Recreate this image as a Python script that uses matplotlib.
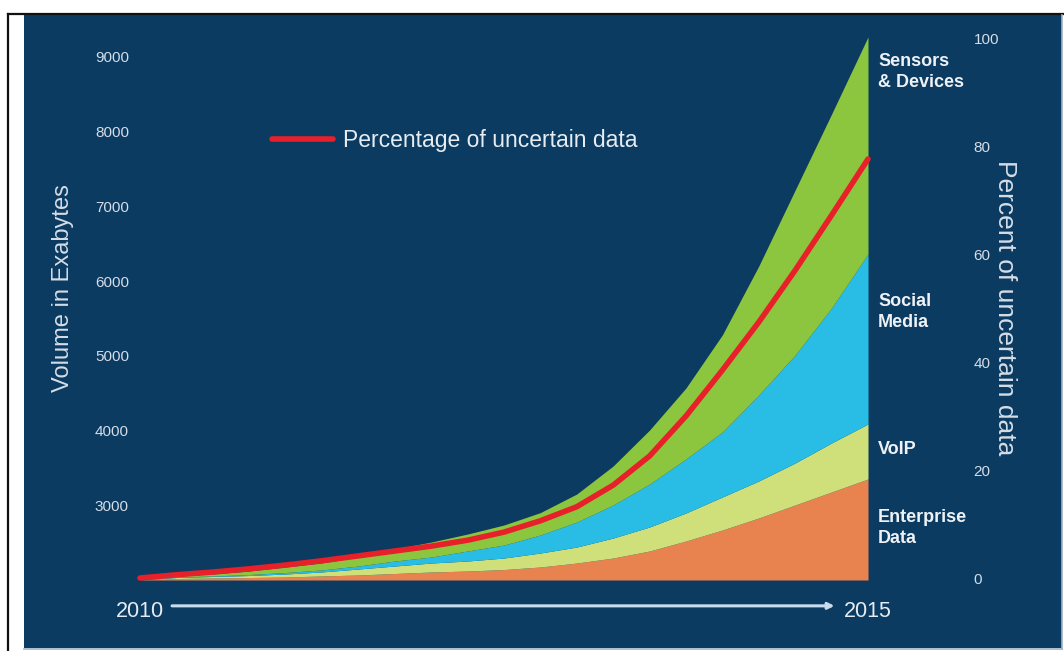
import numpy as np
import matplotlib.pyplot as plt
from matplotlib.lines import Line2D

# Data (volume in exabytes per layer, percent for the red line)
years = [2010, 2010.25, 2010.5, 2010.75, 2011, 2011.25, 2011.5, 2011.75, 2012, 2012.25, 2012.5,
         2012.75, 2013, 2013.25, 2013.5, 2013.75, 2014, 2014.25, 2014.5, 2014.75, 2015]
enterprise = [0, 20, 27, 33, 40, 54, 67, 87, 107, 120, 140,
              174, 227, 294, 388, 522, 669, 830, 1004, 1178, 1352]
voip = [0, 13, 20, 27, 40, 54, 80, 100, 120, 134, 154,
        187, 214, 268, 321, 375, 442, 495, 562, 656, 736]
social = [0, 7, 7, 13, 20, 27, 40, 67, 80, 134, 174,
          241, 335, 442, 575, 723, 870, 1151, 1445, 1806, 2275]
sensors = [0, 13, 27, 47, 74, 94, 120, 161, 201, 227, 268,
           300, 375, 522, 723, 950, 1300, 1726, 2208, 2596, 2904]
uncertain_pct = [0, 0.6, 1.1, 1.7, 2.4, 3.2, 4.1, 5.0, 5.9, 7.0, 8.5,
                 10.6, 13.2, 17.2, 22.6, 30.0, 38.5, 47.4, 57.0, 67.2, 77.6]

layer_names = ["Enterprise\nData", "VoIP", "Social\nMedia", "Sensors\n& Devices"]
left_ticks = [3000, 4000, 5000, 6000, 7000, 8000, 9000]
right_ticks = [0, 20, 40, 60, 80, 100]

NAVY = "#0b3b60"
TXT = "#d4dde8"
layer_colors = ["#e8834f", "#cfe07a", "#29bde6", "#8cc63f"]
RED = "#e8202a"
FLOOR = 2000  # bottom of the left scale
FONT = ["Liberation Sans", "DejaVu Sans"]

W, H = 1064, 651
fig = plt.figure(figsize=(W / 100, H / 100), dpi=100, facecolor="white")

# navy panel and frame lines
fig.patches.append(plt.Rectangle((24 / W, 1 - 648 / H), 1038 / W, 633 / H,
                                 transform=fig.transFigure, facecolor=NAVY,
                                 edgecolor="none", zorder=-10))
fig.lines.append(Line2D([8 / W, 1], [1 - 13.5 / H, 1 - 13.5 / H], transform=fig.transFigure,
                        color="#111111", lw=1.6))
fig.lines.append(Line2D([8 / W, 8 / W], [0, 1 - 13.5 / H], transform=fig.transFigure,
                        color="#111111", lw=1.6))
fig.lines.append(Line2D([24 / W, 1062 / W], [1 - 649 / H, 1 - 649 / H], transform=fig.transFigure,
                        color="#9fb4c8", lw=1.2))
fig.lines.append(Line2D([1062 / W, 1062 / W], [1 - 649 / H, 1 - 15 / H], transform=fig.transFigure,
                        color="#9fb4c8", lw=1.2))

ax = fig.add_axes([140 / W, 1 - 580 / H, 728 / W, 550 / H])
ax.patch.set_visible(False)
ax.set_xlim(2010, 2015)
ax.set_ylim(FLOOR, 9360)

bottom = np.full(len(years), float(FLOOR))
for vals, col in zip([enterprise, voip, social, sensors], layer_colors):
    top = bottom + np.array(vals, dtype=float)
    ax.fill_between(years, bottom, top, color=col, lw=0)
    bottom = top

for s in ax.spines.values():
    s.set_visible(False)
ax.set_yticks(left_ticks)
ax.set_yticklabels([str(t) for t in left_ticks], family=FONT, fontsize=11, color=TXT)
ax.tick_params(axis="y", length=0, pad=8)
ax.set_xticks([2010, 2015])
ax.set_xticklabels(["2010", "2015"], family=FONT, fontsize=15.5, color="#e6ecf2")
ax.tick_params(axis="x", length=0, pad=15)
ax.set_ylabel("Volume in Exabytes", family=FONT, fontsize=17, color=TXT)
ax.yaxis.set_label_coords(-0.091, 0.531)

# timeline arrow
ax.annotate("", xy=(2014.77, -0.047), xytext=(2010.22, -0.047),
            xycoords=("data", "axes fraction"), textcoords=("data", "axes fraction"),
            arrowprops=dict(arrowstyle="-|>", color="#c8dcef", lw=2.2,
                            mutation_scale=9, shrinkA=0, shrinkB=0),
            annotation_clip=False)

# layer labels
label_y = [528, 450, 312, 72]
for name, yp in zip(layer_names, label_y):
    ax.text(1.0137, (580 - yp) / 550, name, transform=ax.transAxes, ha="left", va="center",
            family=FONT, fontsize=13, fontweight="bold", color="#eef2f6", linespacing=1.25)

# percentage line on the right scale
ax2 = ax.twinx()
ax2.set_ylim(-0.37, 101.5)
ax2.plot(years, uncertain_pct, color=RED, lw=4, solid_capstyle="round", clip_on=False,
         label="Percentage of uncertain data")
for s in ax2.spines.values():
    s.set_visible(False)
ax2.set_yticks(right_ticks)
ax2.set_yticklabels([str(t) for t in right_ticks], family=FONT, fontsize=11, color=TXT)
ax2.tick_params(axis="y", length=0, pad=76)
ax2.set_ylabel("Percent of uncertain data", family=FONT, fontsize=19, color=TXT,
               rotation=-90, va="center")
ax2.yaxis.set_label_coords(1.188, 0.496)

leg = ax2.legend(loc="center left", bbox_to_anchor=((272 - 140) / 728, (580 - 141) / 550),
                 frameon=False, handlelength=2.65, handletextpad=0.45, borderpad=0,
                 borderaxespad=0, prop={"family": FONT, "size": 16.5})
for t in leg.get_texts():
    t.set_color("#e6ecf2")

fig.savefig("out.png", dpi=100, facecolor="white")
